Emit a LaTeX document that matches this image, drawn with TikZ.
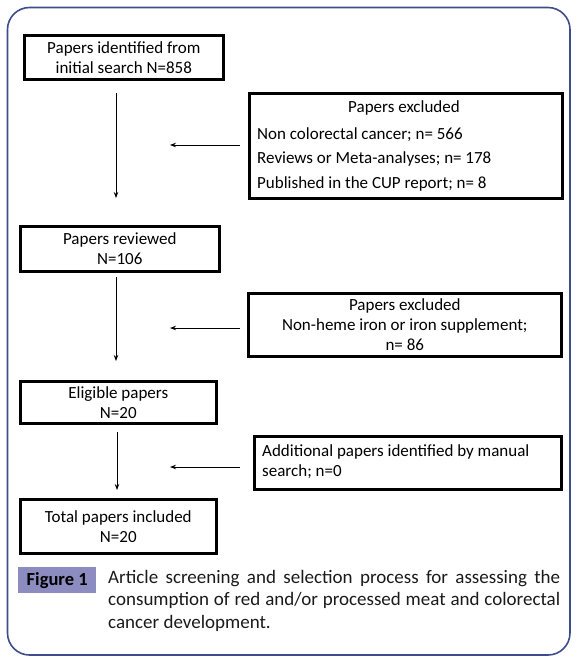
\documentclass[tikz,border=0pt]{standalone}
\usepackage{fontspec}
\setmainfont{Carlito}
\usetikzlibrary{arrows.meta}
\definecolor{framecol}{HTML}{3F4C8C}
\definecolor{figfill}{HTML}{8C8CC0}
\definecolor{textcol}{HTML}{1A1A1A}
\begin{document}
\begin{tikzpicture}[x=1pt,y=-1pt,
  box/.style={draw, line width=2.6pt, inner sep=0pt, anchor=north west, align=center, font=\fontsize{17}{20}\selectfont},
  txt/.style={inner sep=0pt, font=\fontsize{17}{20}\selectfont},
  arr/.style={-{Stealth[length=6pt,width=4.5pt]}, line width=0.9pt}]
\useasboundingbox (0,0) rectangle (577,661);
\draw[framecol, line width=1.6pt, rounded corners=22pt] (7.5,7.5) rectangle (570,655);
% main column
\node[box, minimum width=199, minimum height=44] (b1) at (23,34) {Papers identified from\\initial search N=858};
\node[box, minimum width=199, minimum height=45] (b2) at (19,225) {Papers reviewed\\N=106};
\node[box, minimum width=196, minimum height=42] (b3) at (19,380) {Eligible papers\\N=20};
\node[box, minimum width=196, minimum height=54] (b4) at (19,498) {Total papers included\\N=20};
% side boxes
\node[box, minimum width=313, minimum height=105] (e1) at (248,92) {};
\node[txt] (e1t) at (404,107.5) {Papers excluded};
\node[txt, anchor=west, align=left, font=\fontsize{17}{24.5}\selectfont] (e1l) at (257,159) {Non colorectal cancer; n= 566\\Reviews or Meta-analyses; n= 178\\Published in the CUP report; n= 8};
\node[box, minimum width=313, minimum height=63] (e2) at (247,292) {Papers excluded\\Non-heme iron or iron supplement;\\n= 86};
\node[box, minimum width=307, minimum height=53] (e3) at (253,435) {};
\node[txt, anchor=west, align=left] (e3t) at (262,462) {Additional papers identified by manual\\search; n=0};
% arrows
\coordinate (v1s) at (116,93);  \coordinate (v1e) at (116,198);
\coordinate (v2s) at (116,277); \coordinate (v2e) at (116,361);
\coordinate (v3s) at (117,432); \coordinate (v3e) at (117,490);
\coordinate (h1s) at (240,145); \coordinate (h1e) at (170,145);
\coordinate (h2s) at (240,328); \coordinate (h2e) at (170,328);
\coordinate (h3s) at (240,467); \coordinate (h3e) at (170,467);
\draw[arr] (v1s) -- (v1e);
\draw[arr] (v2s) -- (v2e);
\draw[arr] (v3s) -- (v3e);
\draw[arr] (h1s) -- (h1e);
\draw[arr] (h2s) -- (h2e);
\draw[arr] (h3s) -- (h3e);
% caption
\node[fill=figfill, anchor=north west, minimum width=78, minimum height=26, inner sep=0pt, font=\fontsize{18.5}{20}\selectfont\bfseries] (fig) at (18,567) {Figure 1};
\node[anchor=north west, inner sep=0pt, text width=452, align=justify, text=textcol, font=\fontsize{19}{22.5}\selectfont] (cap) at (108,570) {Article screening and selection process for assessing the consumption of red and/or processed meat and colorectal cancer development.};
\end{tikzpicture}
\end{document}
